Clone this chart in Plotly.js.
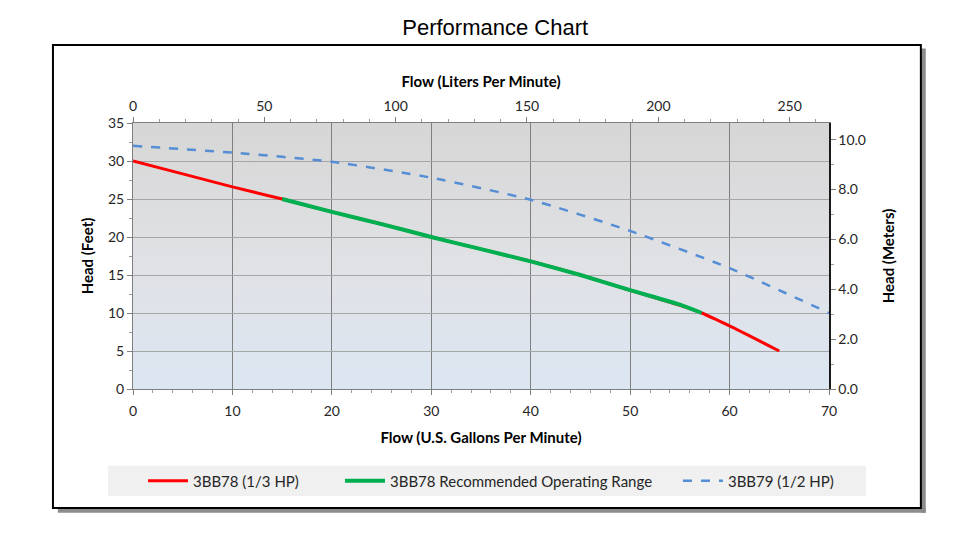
<!DOCTYPE html>
<html>
<head>
<meta charset="utf-8">
<script src="https://cdn.plot.ly/plotly-3.0.1.min.js"></script>
<style>html,body{margin:0;padding:0;background:#fff;}#chart{width:971px;height:537px;}</style>
</head>
<body>
<div id="chart"></div>
<script>
// Data (flow in U.S. gallons per minute, head in feet)
const redFlow = [0, 5, 10, 15, 20, 25, 30, 35, 40, 45, 50, 55, 57.2, 60, 65];
const redHead = [30, 28.3, 26.6, 25, 23.3, 21.7, 20, 18.4, 16.8, 15, 13, 11, 10, 8.3, 5];
const greenFlow = [15, 20, 25, 30, 35, 40, 45, 50, 55, 57.2];
const greenHead = [25, 23.3, 21.7, 20, 18.4, 16.8, 15, 13, 11.1, 10];
const blueFlow = [0, 10, 20, 30, 40, 50, 60, 70];
const blueHead = [32, 31.1, 29.9, 27.8, 24.9, 20.8, 15.9, 10];
const seriesNames = ["3BB78 (1/3 HP)", "3BB78 Recommended Operating Range", "3BB79 (1/2 HP)"];
const GAL_TO_L = 3.78541;
const FT_TO_M = 0.3048;
const xMax = 70, yMax = 35;

const tickFont = {family: "Lato, 'Open Sans', sans-serif", size: 14, color: "#262626"};
const titleFont = {family: "Lato, 'Open Sans', sans-serif", size: 15, color: "#000", weight: "bold"};

const grad = '<svg xmlns="http://www.w3.org/2000/svg" width="100" height="100" preserveAspectRatio="none">' +
  '<defs><linearGradient id="g" x1="0" y1="0" x2="0" y2="1">' +
  '<stop offset="0" stop-color="#d6d6d6"/><stop offset="0.5" stop-color="#e0e1e4"/><stop offset="1" stop-color="#dce6f2"/>' +
  '</linearGradient></defs><rect width="100" height="100" fill="url(#g)"/></svg>';
const gradUri = "data:image/svg+xml;base64," + btoa(grad);

const traces = [
  {x: redFlow, y: redHead, name: seriesNames[0], type: "scatter", mode: "lines",
   line: {color: "#ff0000", width: 3, shape: "spline", smoothing: 0.6}, legend: "legend"},
  {x: greenFlow, y: greenHead, name: seriesNames[1], type: "scatter", mode: "lines",
   line: {color: "#00b050", width: 4, shape: "spline", smoothing: 0.6}, legend: "legend2"},
  {x: blueFlow, y: blueHead, name: seriesNames[2], type: "scatter", mode: "lines",
   line: {color: "#558ed5", width: 2.5, dash: "dash", shape: "spline", smoothing: 0.6}, legend: "legend3"},
  // invisible helpers to show secondary axes
  {x: [0, xMax * GAL_TO_L], y: [0, 0], xaxis: "x2", yaxis: "y", mode: "none", showlegend: false, hoverinfo: "skip"},
  {x: [0, 0], y: [0, yMax * FT_TO_M], xaxis: "x", yaxis: "y2", mode: "none", showlegend: false, hoverinfo: "skip"}
];

const legendCommon = {orientation: "h", bgcolor: "rgba(0,0,0,0)", yanchor: "middle", xanchor: "left",
  y: -0.346, font: {family: "Lato, 'Open Sans', sans-serif", size: 15, color: "#262626"}, itemwidth: 40};

const layout = {
  width: 971, height: 537,
  margin: {l: 133, r: 142, t: 123, b: 148},
  paper_bgcolor: "#ffffff",
  plot_bgcolor: "rgba(0,0,0,0)",
  title: {text: "Performance Chart", x: 0.51, xanchor: "center", y: 0.95, yanchor: "middle", yref: "container",
    font: {family: "'Liberation Sans', Arial, sans-serif", size: 22, color: "#000"}},
  xaxis: {range: [0, xMax], dtick: 10, tick0: 0, showgrid: true, gridcolor: "#7f7f7f", gridwidth: 1,
    showline: true, linecolor: "#7f7f7f", linewidth: 1, ticks: "outside", ticklen: 5, tickcolor: "#7f7f7f",
    ticklabelstandoff: 4,
    minor: {dtick: 2, ticks: "outside", ticklen: 3, tickcolor: "#9a9a9a", showgrid: false},
    tickfont: tickFont, zeroline: false, mirror: false,
    title: {text: "Flow (U.S. Gallons Per Minute)", font: titleFont, standoff: 14}},
  xaxis2: {overlaying: "x", side: "top", range: [0, xMax * GAL_TO_L], dtick: 50, tick0: 0, showgrid: false,
    showline: true, linecolor: "#7f7f7f", ticks: "outside", ticklen: 5, tickcolor: "#7f7f7f",
    minor: {dtick: 10, ticks: "outside", ticklen: 3, tickcolor: "#9a9a9a"},
    tickfont: tickFont, zeroline: false,
    title: {text: "Flow (Liters Per Minute)", font: titleFont, standoff: 6}},
  yaxis: {range: [0, yMax], dtick: 5, tick0: 0, showgrid: true, gridcolor: "#a6a6a6", gridwidth: 1,
    showline: true, linecolor: "#7f7f7f", ticks: "outside", ticklen: 5, tickcolor: "#7f7f7f",
    minor: {dtick: 2.5, ticks: "outside", ticklen: 3, tickcolor: "#9a9a9a", showgrid: false},
    tickfont: tickFont, zeroline: false,
    title: {text: "Head (Feet)", font: titleFont, standoff: 10}},
  yaxis2: {overlaying: "y", side: "right", range: [0, yMax * FT_TO_M], dtick: 2, tick0: 0, tickformat: ".1f",
    showgrid: false, showline: true, linecolor: "#1a1a1a", linewidth: 1.5, ticks: "outside", ticklen: 5,
    tickcolor: "#7f7f7f", minor: {dtick: 1, ticks: "outside", ticklen: 3, tickcolor: "#9a9a9a"},
    tickfont: tickFont, zeroline: false,
    title: {text: "Head (Meters)", font: titleFont, standoff: 18}},
  legend: Object.assign({}, legendCommon, {x: 0.0144}),
  legend2: Object.assign({}, legendCommon, {x: 0.2974}),
  legend3: Object.assign({}, legendCommon, {x: 0.783}),
  images: [{source: gradUri, xref: "x", yref: "y", x: 0, y: yMax, sizex: xMax, sizey: yMax,
    sizing: "stretch", xanchor: "left", yanchor: "top", layer: "below"}],
  shapes: [
    // shadow strips
    {type: "rect", xref: "paper", yref: "paper", x0: 1.132, x1: 1.139, y0: -0.465, y1: 1.28,
     fillcolor: "#8c8c8c", line: {width: 0}, layer: "below"},
    {type: "rect", xref: "paper", yref: "paper", x0: -0.108, x1: 1.139, y0: -0.465, y1: -0.447,
     fillcolor: "#8c8c8c", line: {width: 0}, layer: "below"},
    // frame
    {type: "rect", xref: "paper", yref: "paper", x0: -0.115, x1: 1.132, y0: -0.447, y1: 1.293,
     fillcolor: "rgba(0,0,0,0)", line: {color: "#000", width: 2}, layer: "below"},
    // legend band
    {type: "rect", xref: "paper", yref: "paper", x0: -0.036, x1: 1.053, y0: -0.402, y1: -0.289,
     fillcolor: "#f0f0f0", line: {width: 0}, layer: "below"}
  ],
  showlegend: true
};

Plotly.newPlot("chart", traces, layout, {displayModeBar: false, staticPlot: true});
</script>
</body>
</html>
